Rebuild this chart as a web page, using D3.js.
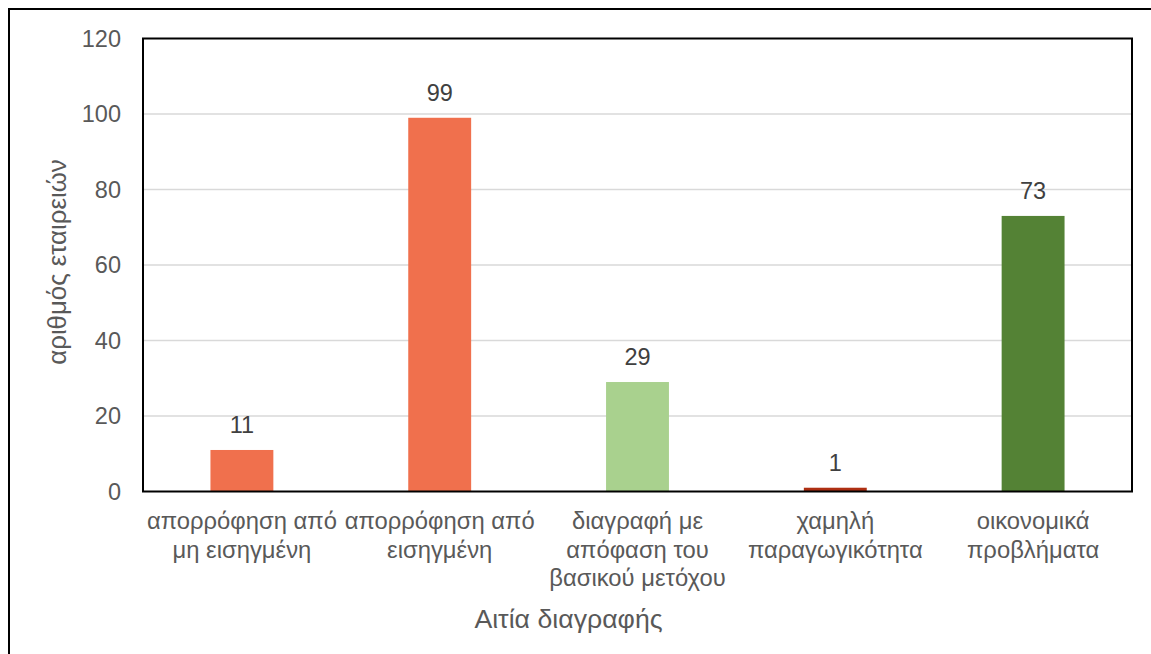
<!DOCTYPE html>
<html>
<head>
<meta charset="utf-8">
<script src="https://cdn.jsdelivr.net/npm/d3@7"></script>
<style>
  html, body { margin: 0; padding: 0; background: #fff; }
  svg { display: block; font-family: "Liberation Sans", Arial, sans-serif; }
</style>
</head>
<body>
<svg id="chart" width="1151" height="654"></svg>
<script>
// Reasons for company delisting and number of companies
const categories = [
  ["απορρόφηση από", "μη εισηγμένη"],
  ["απορρόφηση από", "εισηγμένη"],
  ["διαγραφή με", "απόφαση του", "βασικού μετόχου"],
  ["χαμηλή", "παραγωγικότητα"],
  ["οικονομικά", "προβλήματα"]
];
const values = [11, 99, 29, 1, 73];
const barColors = ["#F0704D", "#F0704D", "#A9D18E", "#AE2F12", "#548235"];
const yTicks = [0, 20, 40, 60, 80, 100, 120];
const xTitle = "Αιτία διαγραφής";
const yTitle = "αριθμός εταιρειών";

const svg = d3.select("#chart");
const plot = { left: 143, right: 1132, top: 38.5, bottom: 491.5 };
const textGray = "#595959";

// outer chart frame
svg.append("rect")
  .attr("x", 9).attr("y", 9).attr("width", 1200).attr("height", 700)
  .attr("fill", "none").attr("stroke", "#000").attr("stroke-width", 2);

const keys = categories.map((_, i) => i);
const x = d3.scaleBand().domain(keys).range([plot.left, plot.right]).paddingInner(0.682).paddingOuter(0.341);
const y = d3.scaleLinear().domain([0, 120]).range([plot.bottom, plot.top]);

// gridlines
svg.append("g")
  .selectAll("line")
  .data(yTicks.filter(t => t > 0 && t < 120))
  .join("line")
  .attr("x1", plot.left).attr("x2", plot.right)
  .attr("y1", d => y(d)).attr("y2", d => y(d))
  .attr("stroke", "#D9D9D9").attr("stroke-width", 1.5);

// y axis tick labels
const yAxis = d3.axisLeft(y).tickValues(yTicks).tickSize(0).tickPadding(22);
const gy = svg.append("g").attr("transform", `translate(${plot.left},0)`).call(yAxis);
gy.select(".domain").remove();
gy.selectAll("text")
  .attr("fill", textGray)
  .style("font-size", "23.5px")
  .style("font-family", "'Liberation Sans', Arial, sans-serif");

// bars
svg.append("g")
  .selectAll("rect")
  .data(values)
  .join("rect")
  .attr("x", (d, i) => x(i))
  .attr("width", x.bandwidth())
  .attr("y", d => y(d))
  .attr("height", d => y(0) - y(d))
  .attr("fill", (d, i) => barColors[i]);

// value labels
svg.append("g")
  .selectAll("text")
  .data(values)
  .join("text")
  .attr("x", (d, i) => x(i) + x.bandwidth() / 2)
  .attr("y", d => y(d) - 17)
  .attr("text-anchor", "middle")
  .attr("fill", "#404040")
  .style("font-size", "23.5px")
  .text(d => d);

// plot frame
svg.append("rect")
  .attr("x", plot.left).attr("y", plot.top)
  .attr("width", plot.right - plot.left).attr("height", plot.bottom - plot.top)
  .attr("fill", "none").attr("stroke", "#000").attr("stroke-width", 2);

// category labels
const xAxis = d3.axisBottom(x).tickSize(0).tickFormat(() => "");
const gx = svg.append("g").attr("transform", `translate(0,${plot.bottom})`).call(xAxis);
gx.select(".domain").remove();
gx.selectAll(".tick text").remove();
gx.selectAll(".tick").each(function(d) {
  const t = d3.select(this).append("text")
    .attr("text-anchor", "middle")
    .attr("fill", textGray)
    .style("font-size", "23.8px")
    .style("font-family", "'Liberation Sans', Arial, sans-serif");
  categories[d].forEach((line, j) => {
    t.append("tspan").attr("x", 0).attr("y", 37.5 + j * 28.5).text(line);
  });
});

// axis titles
svg.append("text")
  .attr("x", 568.5).attr("y", 628)
  .attr("text-anchor", "middle")
  .attr("fill", textGray)
  .style("font-size", "26.7px")
  .text(xTitle);

svg.append("text")
  .attr("transform", "translate(66,262) rotate(-90)")
  .attr("text-anchor", "middle")
  .attr("fill", textGray)
  .style("font-size", "25.8px")
  .text(yTitle);
</script>
</body>
</html>
